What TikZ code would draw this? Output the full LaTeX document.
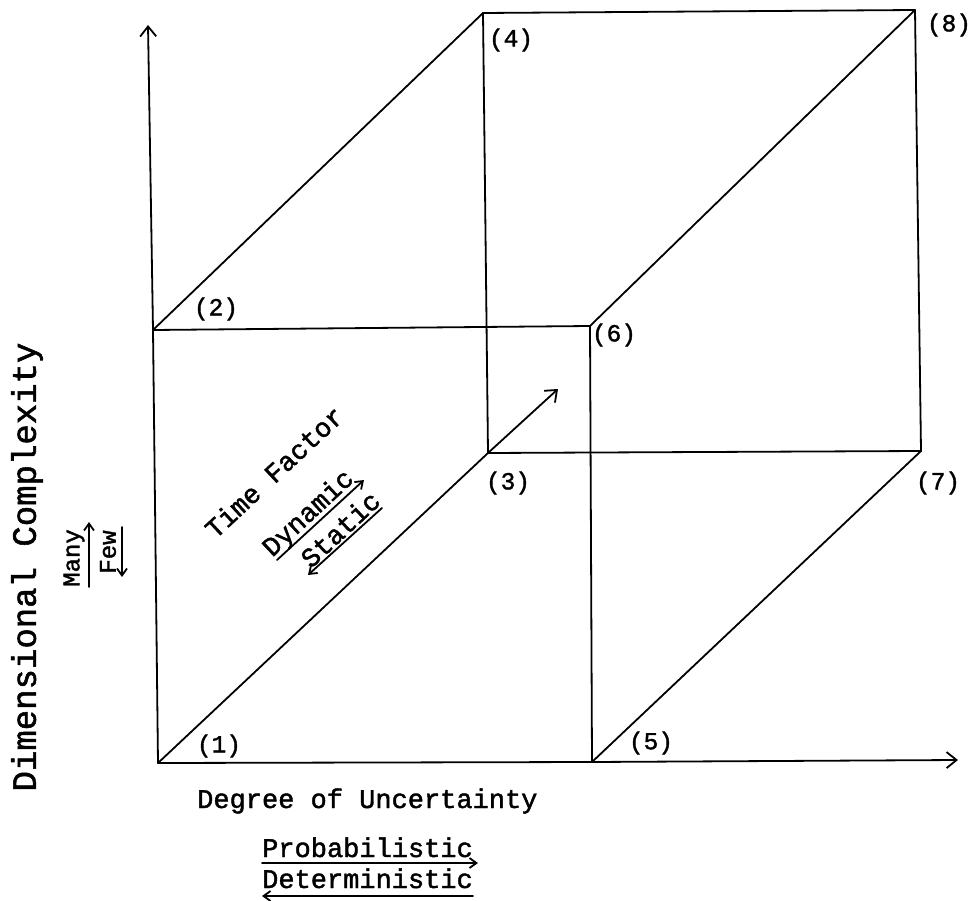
\documentclass[tikz,border=0pt]{standalone}
\usepackage{fontspec}
\newfontfamily\tw[FakeBold=1.6]{Liberation Mono}
\usetikzlibrary{arrows.meta}
\begin{document}
\begin{tikzpicture}[x=1pt,y=-1pt,
  edge/.style={line width=1.8pt, line cap=round, line join=round},
  axis/.style={edge, -{Straight Barb[length=10pt,width=16pt]}},
  smallarrow/.style={line width=1.8pt, line cap=round, -{Straight Barb[length=7pt,width=10pt]}},
  cornerlbl/.style={font=\tw\fontsize{24.5}{28}\selectfont, inner sep=0pt},
  mainlbl/.style={font=\tw\fontsize{27}{30}\selectfont, inner sep=0pt},
  sidelbl/.style={font=\tw\fontsize{24}{26}\selectfont, inner sep=0pt},
  vertlbl/.style={font=\tw\fontsize{34}{38}\selectfont, inner sep=0pt}]
\useasboundingbox (0,0) rectangle (977,901);
% cube corners
\coordinate (c1) at (158,763);
\coordinate (c2) at (153,330);
\coordinate (c3) at (488,453);
\coordinate (c4) at (483,13);
\coordinate (c5) at (592,762);
\coordinate (c6) at (590,326);
\coordinate (c7) at (921,451);
\coordinate (c8) at (915,10);
% axis ends
\coordinate (ytop) at (148,25);
\coordinate (xend) at (958,760);
\coordinate (tend) at (558,389);
% axes
\draw[axis] (c1) -- (c2) -- (ytop);
\draw[axis] (c1) -- (c5) -- (xend);
\draw[axis] (c1) -- (c3) -- (tend);
% cube edges
\draw[edge] (c2) -- (c6) -- (c5);
\draw[edge] (c2) -- (c4) -- (c8) -- (c6);
\draw[edge] (c4) -- (c3) -- (c7) -- (c8);
\draw[edge] (c5) -- (c7);
% corner labels
\node[cornerlbl] (l1) at (219,746) {(1)};
\node[cornerlbl] (l2) at (216,309) {(2)};
\node[cornerlbl] (l3) at (508,483) {(3)};
\node[cornerlbl] (l4) at (511,40) {(4)};
\node[cornerlbl] (l5) at (651,743) {(5)};
\node[cornerlbl] (l6) at (614,335) {(6)};
\node[cornerlbl] (l7) at (938,483) {(7)};
\node[cornerlbl] (l8) at (949,25) {(8)};
% x axis title
\node[mainlbl, anchor=base west] (deg) at (197,808) {Degree of Uncertainty};
\node[mainlbl, anchor=base west] (prob) at (262,857) {Probabilistic};
\node[mainlbl, anchor=base west] (det) at (262,888) {Deterministic};
\coordinate (pA) at (262,863);
\coordinate (pB) at (478,863);
\coordinate (dA) at (473,896);
\coordinate (dB) at (262,896);
\draw[smallarrow] (pA) -- (pB);
\draw[smallarrow] (dA) -- (dB);
% y axis title
\node[vertlbl, rotate=90] (dim) at (27,567) {Dimensional Complexity};
\node[sidelbl, rotate=90] (many) at (74,558) {Many};
\node[sidelbl, rotate=90] (few) at (108,552) {Few};
\coordinate (mA) at (89,587);
\coordinate (mB) at (89,522);
\coordinate (fA) at (122,527);
\coordinate (fB) at (122,577);
\draw[smallarrow] (mA) -- (mB);
\draw[smallarrow] (fA) -- (fB);
% time axis title
\node[mainlbl, rotate=43] (time) at (274,472) {Time Factor};
\node[mainlbl, rotate=43] (dyn) at (309,514) {Dynamic};
\node[mainlbl, rotate=43] (stat) at (340,529) {Static};
\coordinate (yA) at (277,560);
\coordinate (yB) at (364,480);
\coordinate (sA) at (382,508);
\coordinate (sB) at (308,575);
\draw[smallarrow] (yA) -- (yB);
\draw[smallarrow] (sA) -- (sB);
\end{tikzpicture}
\end{document}
